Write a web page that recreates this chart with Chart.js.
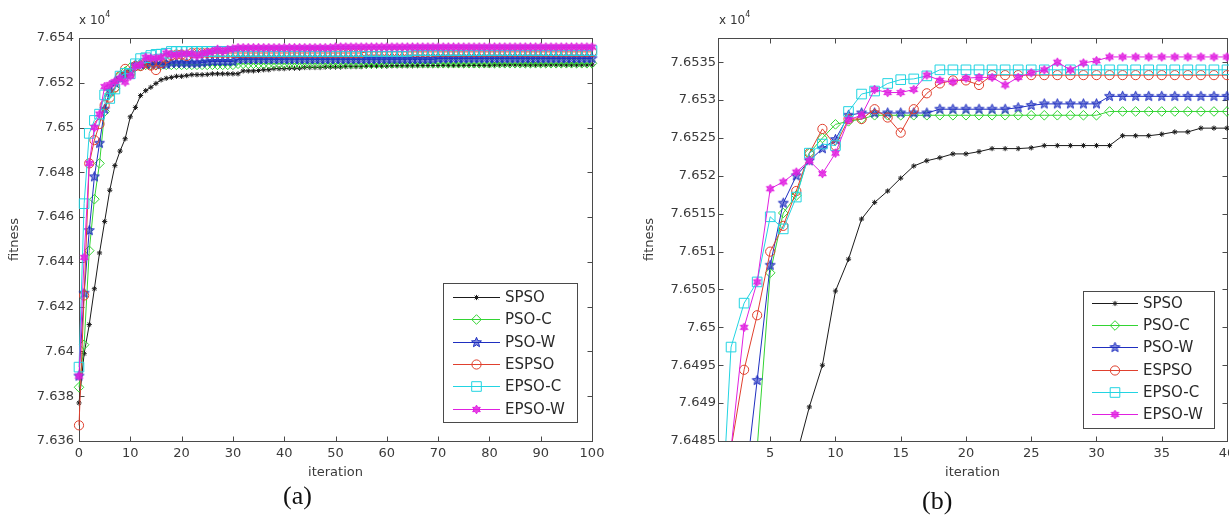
<!DOCTYPE html>
<html><head><meta charset="utf-8">
<script src="https://cdn.jsdelivr.net/npm/chart.js@4.4.1/dist/chart.umd.min.js"></script>
<style>
html,body{margin:0;padding:0;background:#fff;overflow:hidden;}
#wrap{position:relative;width:1229px;height:523px;overflow:hidden;background:#fff;}
canvas{position:absolute;top:0;}
#cA{left:0;}
#cB{left:615px;}
.mult{position:absolute;top:12px;font-family:"DejaVu Sans",sans-serif;font-size:12px;color:#333;white-space:nowrap;}
.mult sup{font-size:8px;position:relative;top:-2px;}
.cap{position:absolute;font-family:"Liberation Serif",serif;font-size:26px;color:#111;}
</style></head><body>
<div id="wrap">
<canvas id="cA" width="615" height="523"></canvas>
<canvas id="cB" width="630" height="523"></canvas>
<div class="mult" style="left:79px">x 10<sup>4</sup></div>
<div class="mult" style="left:719px">x 10<sup>4</sup></div>
<div class="cap" style="left:283px;top:481px">(a)</div>
<div class="cap" style="left:922px;top:486px">(b)</div>
</div>
<script>
// ---------------- data ----------------
const iterations = [0,1,2,3,4,5,6,7,8,9,10,11,12,13,14,15,16,17,18,19,20,21,22,23,24,25,26,27,28,29,30,31,32,33,34,35,36,37,38,39,40,41,42,43,44,45,46,47,48,49,50,51,52,53,54,55,56,57,58,59,60,61,62,63,64,65,66,67,68,69,70,71,72,73,74,75,76,77,78,79,80,81,82,83,84,85,86,87,88,89,90,91,92,93,94,95,96,97,98,99,100];

const spso = [
 7.6377,7.6399,7.6412,7.6428,7.6444,7.6458,7.6472,7.6483,7.64895,7.6495,
 7.65048,7.6509,7.65143,7.65165,7.6518,7.65197,7.65213,7.6522,7.65224,7.65229,
 7.65229,7.65232,7.65236,7.65236,7.65236,7.65237,7.6524,7.6524,7.6524,7.6524,
 7.6524,7.6524,7.65253,7.65253,7.65253,7.65255,7.65258,7.65258,7.65263,7.65263,
 7.65263,7.65265,7.65265,7.65265,7.65268,7.65268,7.65268,7.65268,7.6527,7.6527,
 7.6527,7.6527,7.65272,7.65272,7.65272,7.65272,7.65274,7.65274,7.65274,7.65274,
 7.65274,7.65276,7.65276,7.65276,7.65276,7.65276,7.65277,7.65277,7.65277,7.65277,
 7.65277,7.65278,7.65278,7.65278,7.65278,7.65278,7.65278,7.65278,7.65278,7.65278,
 7.65278,7.6528,7.6528,7.6528,7.6528,7.6528,7.6528,7.6528,7.6528,7.6528,
 7.6528,7.6528,7.6528,7.6528,7.6528,7.6528,7.6528,7.6528,7.6528,7.6528,
 7.6528];
const psoC = [
 7.6384,7.6403,7.6445,7.6468,7.6484,7.65072,7.65151,7.65174,7.6523,7.6525,
 7.65268,7.65272,7.65275,7.6528,7.6528,7.6528,7.6528,7.6528,7.6528,7.6528,
 7.6528,7.6528,7.6528,7.6528,7.6528,7.6528,7.6528,7.6528,7.6528,7.6528,
 7.6528,7.65285,7.65285,7.65285,7.65285,7.65285,7.65285,7.65285,7.65285,7.65285,
 7.65285,7.65285,7.65285,7.65285,7.65285,7.65285,7.65285,7.65285,7.65285,7.65285,
 7.65285,7.65285,7.65285,7.65285,7.65285,7.65285,7.65285,7.65285,7.65285,7.65285,
 7.65287,7.65287,7.65287,7.65287,7.65287,7.65287,7.65287,7.65287,7.65287,7.65287,
 7.65287,7.65287,7.65287,7.65287,7.65287,7.65287,7.65287,7.65287,7.65287,7.65287,
 7.65287,7.65287,7.65287,7.65287,7.65287,7.65287,7.65287,7.65287,7.65287,7.65287,
 7.65287,7.65287,7.65287,7.65287,7.65287,7.65287,7.65287,7.65287,7.65287,7.65287,
 7.65287];
const psoW = [
 7.6389,7.6426,7.6454,7.6478,7.6493,7.65082,7.65164,7.652,7.6522,7.65236,
 7.65248,7.6528,7.65283,7.65283,7.65283,7.65283,7.65283,7.65283,7.65288,7.65288,
 7.65288,7.65288,7.65288,7.65288,7.6529,7.65293,7.65295,7.65295,7.65295,7.65295,
 7.65295,7.65305,7.65305,7.65305,7.65305,7.65305,7.65305,7.65305,7.65305,7.65305,
 7.65305,7.65305,7.65305,7.65305,7.65305,7.65305,7.65305,7.65305,7.65305,7.65305,
 7.65305,7.65305,7.65305,7.65305,7.65305,7.65305,7.65305,7.65305,7.65305,7.65305,
 7.65305,7.65305,7.65305,7.65305,7.65305,7.65305,7.65305,7.65305,7.65305,7.65305,
 7.65308,7.65308,7.65308,7.65308,7.65308,7.65308,7.65308,7.65308,7.65308,7.65308,
 7.65308,7.65308,7.65308,7.65308,7.65308,7.65308,7.65308,7.65308,7.65308,7.65308,
 7.65308,7.65308,7.65308,7.65308,7.65308,7.65308,7.65308,7.65308,7.65308,7.65308,
 7.65308];
const espso = [
 7.6367,7.6425,7.6484,7.64944,7.65016,7.651,7.65134,7.6518,7.6523,7.65262,
 7.6524,7.65275,7.65275,7.65288,7.65277,7.65257,7.65288,7.65309,7.65322,7.65326,
 7.65326,7.6532,7.65333,7.65333,7.65333,7.65333,7.65333,7.65333,7.65333,7.65333,
 7.65333,7.65333,7.65333,7.65333,7.65333,7.65333,7.65333,7.65333,7.65333,7.65333,
 7.65333,7.65333,7.65333,7.65333,7.65333,7.65333,7.65333,7.65333,7.65333,7.65333,
 7.65333,7.65333,7.65333,7.65333,7.65333,7.65333,7.65338,7.65338,7.65338,7.65338,
 7.65338,7.65338,7.65338,7.65338,7.65338,7.65338,7.65338,7.65338,7.65338,7.65338,
 7.65338,7.65338,7.65338,7.65338,7.65338,7.65338,7.65338,7.65338,7.65338,7.65338,
 7.65338,7.65338,7.65338,7.65338,7.65338,7.65338,7.65338,7.65338,7.65338,7.65338,
 7.65338,7.65338,7.65338,7.65338,7.65338,7.65338,7.65338,7.65338,7.65338,7.65338,
 7.65338];
const epsoC = [
 7.6393,7.6466,7.64974,7.65032,7.6506,7.65146,7.6513,7.65172,7.6523,7.65242,
 7.6524,7.65285,7.65308,7.65312,7.65322,7.65327,7.65328,7.65332,7.6534,7.6534,
 7.6534,7.6534,7.6534,7.6534,7.6534,7.6534,7.6534,7.6534,7.6534,7.6534,
 7.6534,7.6534,7.6534,7.6534,7.6534,7.6534,7.6534,7.6534,7.6534,7.6534,
 7.6534,7.6534,7.6534,7.6534,7.6534,7.6534,7.6534,7.6534,7.6534,7.6534,
 7.6534,7.6534,7.6534,7.6534,7.6534,7.6534,7.6534,7.6534,7.6534,7.6534,
 7.6534,7.6534,7.6534,7.6534,7.6534,7.65344,7.65344,7.65344,7.65344,7.65344,
 7.65344,7.65344,7.65344,7.65344,7.65344,7.65344,7.65344,7.65344,7.65344,7.65344,
 7.65344,7.65344,7.65344,7.65344,7.65344,7.65344,7.65344,7.65344,7.65344,7.65344,
 7.65344,7.65344,7.65344,7.65344,7.65344,7.65344,7.65344,7.65344,7.65344,7.65344,
 7.65344];
const epsoW = [
 7.6389,7.6442,7.6484,7.65,7.6506,7.65183,7.65192,7.65205,7.6522,7.65203,
 7.6523,7.65274,7.6528,7.65314,7.6531,7.6531,7.65314,7.65333,7.65326,7.65324,
 7.65329,7.6533,7.6533,7.6532,7.6533,7.65336,7.6534,7.6535,7.6534,7.65349,
 7.65352,7.65357,7.65357,7.65357,7.65357,7.65357,7.65357,7.65357,7.65357,7.65357,
 7.65357,7.65357,7.65357,7.65357,7.65357,7.65357,7.65357,7.65357,7.65357,7.65357,
 7.6536,7.6536,7.6536,7.6536,7.6536,7.6536,7.6536,7.6536,7.6536,7.6536,
 7.6536,7.6536,7.6536,7.6536,7.6536,7.6536,7.6536,7.6536,7.6536,7.6536,
 7.6536,7.6536,7.6536,7.6536,7.6536,7.6536,7.6536,7.6536,7.6536,7.6536,
 7.6536,7.6536,7.6536,7.6536,7.6536,7.6536,7.6536,7.6536,7.6536,7.6536,
 7.6536,7.6536,7.6536,7.6536,7.6536,7.6536,7.6536,7.6536,7.6536,7.6536,
 7.6536];

const seriesNames = ['SPSO','PSO-C','PSO-W','ESPSO','EPSO-C','EPSO-W'];
const seriesValues = [spso, psoC, psoW, espso, epsoC, epsoW];

// tick values / labels
const xTicksA = [0,10,20,30,40,50,60,70,80,90,100];
const xTickLabelsA = ['0','10','20','30','40','50','60','70','80','90','100'];
const yTicksA = [7.636,7.638,7.640,7.642,7.644,7.646,7.648,7.650,7.652,7.654];
const yTickLabelsA = ['7.636','7.638','7.64','7.642','7.644','7.646','7.648','7.65','7.652','7.654'];
const xTicksB = [5,10,15,20,25,30,35,40];
const xTickLabelsB = ['5','10','15','20','25','30','35','40'];
const yTicksB = [7.6485,7.649,7.6495,7.65,7.6505,7.651,7.6515,7.652,7.6525,7.653,7.6535];
const yTickLabelsB = ['7.6485','7.649','7.6495','7.65','7.6505','7.651','7.6515','7.652','7.6525','7.653','7.6535'];

// ---------------- styles ----------------
const seriesColors = ['#1b1b1b','#33d433','#1f2fc0','#e0402e','#22d4e2','#e020e0'];
function starCanvas(n, outer, inner, color, fill) {
  const s = Math.ceil(outer * 2 + 4);
  const c = document.createElement('canvas');
  c.width = s; c.height = s;
  const g = c.getContext('2d');
  g.translate(s / 2, s / 2);
  g.beginPath();
  for (let i = 0; i < 2 * n; i++) {
    const r = i % 2 === 0 ? outer : inner;
    const a = -Math.PI / 2 + i * Math.PI / n;
    const px = r * Math.cos(a), py = r * Math.sin(a);
    if (i === 0) g.moveTo(px, py); else g.lineTo(px, py);
  }
  g.closePath();
  g.fillStyle = fill; g.fill();
  g.strokeStyle = color; g.lineWidth = 1; g.stroke();
  return c;
}
const pentagram = starCanvas(5, 5.2, 2.3, seriesColors[2], 'rgba(31,47,192,0.55)');
const hexagram = starCanvas(6, 4.4, 2.4, seriesColors[5], 'rgba(224,32,224,0.85)');
const markerStyles = ['star','rectRot',pentagram,'circle','rect',hexagram];
const markerRadii = [2.6, 4.8, 5, 4.6, 6.8, 4.5];
const markerFill = ['rgba(0,0,0,0)','rgba(0,0,0,0)','rgba(0,0,0,0)','rgba(0,0,0,0)','rgba(0,0,0,0)','rgba(0,0,0,0)'];

Chart.defaults.font.family = '"DejaVu Sans", sans-serif';
Chart.defaults.color = '#3a3a3a';

function buildDatasets() {
  return seriesNames.map((name, k) => ({
    label: name,
    data: iterations.map((it, i) => ({x: it, y: seriesValues[k][i]})),
    borderColor: seriesColors[k],
    backgroundColor: seriesColors[k],
    borderWidth: 1,
    pointStyle: markerStyles[k],
    pointRadius: markerRadii[k],
    pointHoverRadius: markerRadii[k],
    pointBorderWidth: 1,
    pointBorderColor: seriesColors[k],
    pointBackgroundColor: markerFill[k],
    order: seriesNames.length - k,
    tension: 0
  }));
}

function drawMarker(ctx, ds, x, y) {
  const st = ds.pointStyle, r = ds.pointRadius;
  ctx.save();
  ctx.strokeStyle = ds.pointBorderColor; ctx.lineWidth = 1;
  if (typeof st === 'object') {
    ctx.drawImage(st, x - st.width / 2, y - st.height / 2);
  } else {
    ctx.beginPath();
    if (st === 'circle') { ctx.arc(x, y, r, 0, Math.PI * 2); }
    else if (st === 'rect') { const s = r * Math.SQRT1_2; ctx.rect(x - s, y - s, 2 * s, 2 * s); }
    else if (st === 'rectRot') { ctx.moveTo(x - r, y); ctx.lineTo(x, y - r); ctx.lineTo(x + r, y); ctx.lineTo(x, y + r); ctx.closePath(); }
    else if (st === 'star') {
      for (let i = 0; i < 4; i++) { const a = i * Math.PI / 4; ctx.moveTo(x - r * Math.cos(a), y - r * Math.sin(a)); ctx.lineTo(x + r * Math.cos(a), y + r * Math.sin(a)); }
    }
    ctx.stroke();
  }
  ctx.restore();
}

const framePlugin = {
  id: 'frame',
  beforeDatasetsDraw(chart, args, o) {
    const {ctx, chartArea: a} = chart;
    const xs = chart.scales.x, ys = chart.scales.y;
    ctx.save();
    ctx.strokeStyle = '#4a4a4a'; ctx.lineWidth = 1;
    const L = Math.round(a.left) + 0.5, R = Math.round(a.right) + 0.5, T = Math.round(a.top) + 0.5, B = Math.round(a.bottom) + 0.5;
    ctx.strokeRect(L, T, R - L, B - T);
    ctx.beginPath();
    const tl = 5;
    xs.ticks.forEach(t => { const px = Math.round(xs.getPixelForValue(t.value)) + 0.5; ctx.moveTo(px, B); ctx.lineTo(px, B - tl); ctx.moveTo(px, T); ctx.lineTo(px, T + tl); });
    ys.ticks.forEach(t => { const py = Math.round(ys.getPixelForValue(t.value)) + 0.5; ctx.moveTo(L, py); ctx.lineTo(L + tl, py); ctx.moveTo(R, py); ctx.lineTo(R - tl, py); });
    ctx.stroke();
    ctx.restore();
  }
};

const boxLegend = {
  id: 'boxLegend',
  afterDatasetsDraw(chart, args, o) {
    const ctx = chart.ctx;
    ctx.save();
    ctx.fillStyle = '#fff'; ctx.fillRect(o.x, o.y, o.w, o.h);
    ctx.strokeStyle = '#4a4a4a'; ctx.lineWidth = 1; ctx.strokeRect(o.x + 0.5, o.y + 0.5, o.w, o.h);
    ctx.font = '15px "DejaVu Sans", sans-serif'; ctx.textBaseline = 'middle'; ctx.textAlign = 'left';
    chart.data.datasets.forEach((ds, i) => {
      const yy = Math.round(o.y + o.first + i * o.step) + 0.5;
      ctx.strokeStyle = ds.borderColor; ctx.lineWidth = 1;
      ctx.beginPath(); ctx.moveTo(o.x + o.l0, yy); ctx.lineTo(o.x + o.l1, yy); ctx.stroke();
      drawMarker(ctx, ds, o.x + (o.l0 + o.l1) / 2, yy);
      ctx.fillStyle = '#2a2a2a'; ctx.fillText(ds.label, o.x + o.tx, yy + 1);
    });
    ctx.restore();
  }
};

function makeChart(id, cfg) {
  return new Chart(document.getElementById(id), {
    type: 'line',
    data: {datasets: buildDatasets()},
    plugins: [framePlugin, boxLegend],
    options: {
      responsive: false,
      animation: false,
      events: [],
      layout: {padding: {left: 0, top: 38, right: cfg.padRight, bottom: 0}},
      datasets: {line: {clip: cfg.clip}},
      plugins: {legend: {display: false}, tooltip: {enabled: false}, boxLegend: cfg.legend},
      scales: {
        x: {
          type: 'linear', min: cfg.xMin, max: cfg.xMax,
          grid: {display: false, drawTicks: false}, border: {display: false},
          afterBuildTicks: s => { s.ticks = cfg.xTicks.map(v => ({value: v})); },
          afterFit: s => { s.height = 82; },
          ticks: {autoSkip: false, maxRotation: 0, padding: 5, font: {size: 13}, color: '#3a3a3a',
                  callback: (v, i) => cfg.xLabels[i]},
          title: {display: true, text: 'iteration', font: {size: 13}, color: '#3a3a3a', padding: {top: 0, bottom: 43}}
        },
        y: {
          type: 'linear', min: cfg.yMin, max: cfg.yMax,
          grid: {display: false, drawTicks: false}, border: {display: false},
          afterBuildTicks: s => { s.ticks = cfg.yTicks.map(v => ({value: v})); },
          afterFit: s => { s.width = cfg.yWidth; },
          ticks: {autoSkip: false, padding: cfg.yPad, font: {size: 13}, color: '#3a3a3a',
                  callback: (v, i) => cfg.yLabels[i]},
          title: {display: true, text: 'fitness', font: {size: 13}, color: '#3a3a3a', padding: {top: cfg.yTitlePad, bottom: 0}}
        }
      }
    }
  });
}

makeChart('cA', {
  padRight: 23, clip: 8,
  xMin: 0, xMax: 100, yMin: 7.636, yMax: 7.654,
  xTicks: xTicksA, xLabels: xTickLabelsA, yTicks: yTicksA, yLabels: yTickLabelsA,
  yWidth: 79, yPad: 5, yTitlePad: 7,
  legend: {x: 443, y: 283, w: 134, h: 139, first: 14, step: 22.3, l0: 10, l1: 57, tx: 62}
});
makeChart('cB', {
  padRight: 18, clip: {left: 0, top: 8, right: 8, bottom: 0},
  xMin: 1, xMax: 40, yMin: 7.6485, yMax: 7.65382,
  xTicks: xTicksB, xLabels: xTickLabelsB, yTicks: yTicksB, yLabels: yTickLabelsB,
  yWidth: 103, yPad: 2, yTitlePad: 27,
  legend: {x: 468, y: 291, w: 131, h: 137, first: 12, step: 22.2, l0: 9, l1: 55, tx: 60}
});
</script>
</body></html>
